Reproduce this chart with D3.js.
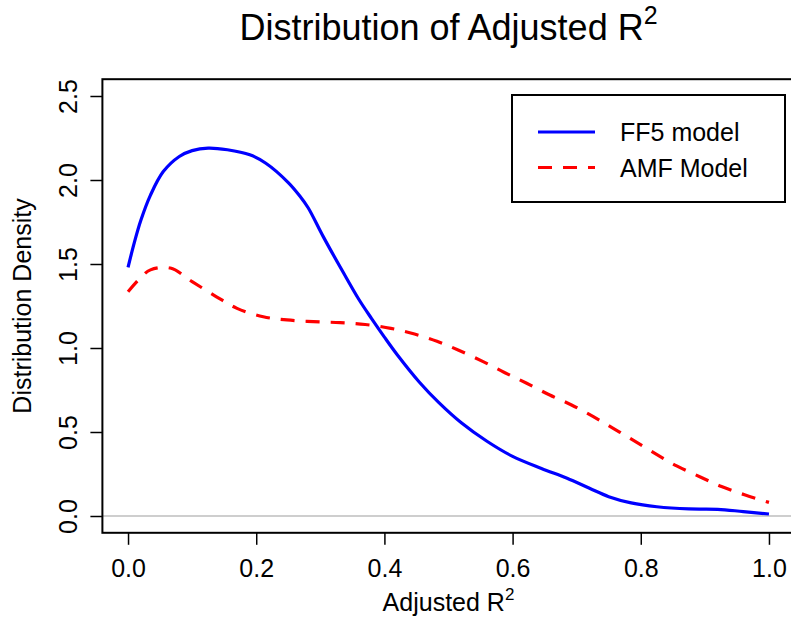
<!DOCTYPE html>
<html>
<head>
<meta charset="utf-8">
<script src="https://cdn.jsdelivr.net/npm/d3@7"></script>
<style>
body { margin: 0; background: #fff; }
text { font-family: "Liberation Sans", Arial, sans-serif; fill: #000; }
</style>
</head>
<body>
<script>
// values
var ff5X = [0.00, 0.01, 0.02, 0.035, 0.055, 0.08, 0.10, 0.125, 0.155, 0.19, 0.215, 0.25, 0.268, 0.281, 0.305, 0.335, 0.36, 0.38, 0.40, 0.42, 0.455, 0.485, 0.52, 0.56, 0.60, 0.645, 0.685, 0.72, 0.75, 0.785, 0.825, 0.875, 0.92, 0.96, 1.00];
var ff5Y = [1.48, 1.63, 1.76, 1.91, 2.05, 2.14, 2.175, 2.19, 2.18, 2.15, 2.10, 1.985, 1.905, 1.835, 1.66, 1.455, 1.29, 1.175, 1.065, 0.96, 0.795, 0.675, 0.555, 0.445, 0.355, 0.283, 0.225, 0.165, 0.115, 0.078, 0.055, 0.042, 0.040, 0.026, 0.012];

var amfX = [0.00, 0.02, 0.035, 0.066, 0.10, 0.138, 0.17, 0.211, 0.248, 0.289, 0.331, 0.37, 0.41, 0.447, 0.482, 0.515, 0.554, 0.588, 0.622, 0.658, 0.692, 0.726, 0.757, 0.788, 0.822, 0.856, 0.892, 0.926, 0.963, 1.00];
var amfY = [1.335, 1.42, 1.465, 1.476, 1.395, 1.305, 1.236, 1.186, 1.167, 1.157, 1.151, 1.14, 1.117, 1.083, 1.04, 0.988, 0.919, 0.853, 0.79, 0.72, 0.661, 0.591, 0.522, 0.452, 0.373, 0.298, 0.234, 0.175, 0.125, 0.081];

var xTicks = [0, 0.2, 0.4, 0.6, 0.8, 1.0];
var yTicks = [0, 0.5, 1.0, 1.5, 2.0, 2.5];
var seriesNames = ["FF5 model", "AMF Model"];

var width = 791, height = 620;

var svg = d3.select("body").append("svg")
    .attr("width", width)
    .attr("height", height);

var x = d3.scaleLinear().domain([-0.04, 1.04]).range([102.4, 794.6]);
var y = d3.scaleLinear().domain([-0.1, 2.6]).range([532.8, 79.2]);

// title
var title = svg.append("text")
    .attr("x", (x.range()[0] + x.range()[1]) / 2)
    .attr("y", 40)
    .attr("text-anchor", "middle")
    .style("font-size", "36px");
title.append("tspan").text("Distribution of Adjusted R");
title.append("tspan").attr("dy", -16).style("font-size", "25px").text("2");

// zero line
svg.append("line")
    .attr("x1", x.range()[0]).attr("x2", x.range()[1])
    .attr("y1", y(0)).attr("y2", y(0))
    .attr("stroke", "#bebebe")
    .attr("stroke-width", 1.5);

// curves
var line = d3.line()
    .x(function(d) { return x(d[0]); })
    .y(function(d) { return y(d[1]); })
    .curve(d3.curveCatmullRom.alpha(0.5));

svg.append("path")
    .datum(d3.zip(ff5X, ff5Y))
    .attr("d", line)
    .attr("fill", "none")
    .attr("stroke", "#0000ff")
    .attr("stroke-width", 3.2);

svg.append("path")
    .datum(d3.zip(amfX, amfY))
    .attr("d", line)
    .attr("fill", "none")
    .attr("stroke", "#ff0000")
    .attr("stroke-width", 3.2)
    .attr("stroke-dasharray", "14,11");

// box
svg.append("rect")
    .attr("x", x.range()[0])
    .attr("y", y.range()[1])
    .attr("width", x.range()[1] - x.range()[0])
    .attr("height", y.range()[0] - y.range()[1])
    .attr("fill", "none")
    .attr("stroke", "#000")
    .attr("stroke-width", 2);

// x axis
var xAxis = svg.append("g")
    .attr("transform", "translate(0," + y.range()[0] + ")")
    .call(d3.axisBottom(x).tickValues(xTicks).tickSize(12).tickPadding(14).tickFormat(d3.format(".1f")));
xAxis.select(".domain").remove();
xAxis.selectAll(".tick line").attr("stroke", "#000").attr("stroke-width", 1.5);
xAxis.selectAll(".tick text")
    .attr("fill", "#000")
    .style("font-size", "25px")
    .style("font-family", "Liberation Sans, Arial, sans-serif");

// y axis
var yAxis = svg.append("g")
    .attr("transform", "translate(" + x.range()[0] + ",0)")
    .call(d3.axisLeft(y).tickValues(yTicks).tickSize(12).tickFormat(d3.format(".1f")));
yAxis.select(".domain").remove();
yAxis.selectAll(".tick line").attr("stroke", "#000").attr("stroke-width", 1.5);
yAxis.selectAll(".tick text")
    .attr("fill", "#000")
    .attr("x", null).attr("dy", null)
    .attr("text-anchor", "middle")
    .attr("transform", "translate(-25,0) rotate(-90)")
    .style("font-size", "25px")
    .style("font-family", "Liberation Sans, Arial, sans-serif");

// axis titles
var xLab = svg.append("text")
    .attr("x", (x.range()[0] + x.range()[1]) / 2)
    .attr("y", 611)
    .attr("text-anchor", "middle")
    .style("font-size", "25px");
xLab.append("tspan").text("Adjusted R");
xLab.append("tspan").attr("dy", -11).style("font-size", "17px").text("2");

svg.append("text")
    .attr("transform", "translate(31," + ((y.range()[0] + y.range()[1]) / 2) + ") rotate(-90)")
    .attr("text-anchor", "middle")
    .style("font-size", "25px")
    .text("Distribution Density");

// legend
var legend = svg.append("g");
legend.append("rect")
    .attr("x", 512).attr("y", 95)
    .attr("width", 273).attr("height", 107)
    .attr("fill", "#fff")
    .attr("stroke", "#000")
    .attr("stroke-width", 2);

var legColors = ["#0000ff", "#ff0000"];
var legDash = [null, "14,11"];
seriesNames.forEach(function(name, i) {
    var ly = 132 + i * 35.5;
    legend.append("line")
        .attr("x1", 538).attr("x2", 595)
        .attr("y1", ly).attr("y2", ly)
        .attr("stroke", legColors[i])
        .attr("stroke-width", 3.2)
        .attr("stroke-dasharray", legDash[i]);
    legend.append("text")
        .attr("x", 620)
        .attr("y", ly + 9)
        .style("font-size", "25px")
        .text(name);
});
</script>
</body>
</html>
